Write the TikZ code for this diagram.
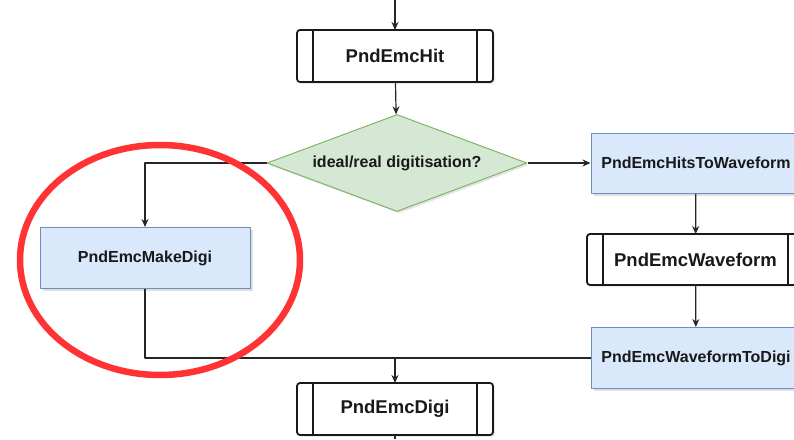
\documentclass[tikz,border=0pt]{standalone}
\usepackage{fontspec}
\setmainfont{Liberation Sans}
\usetikzlibrary{shapes.geometric,shadows,arrows.meta}
\definecolor{procfill}{HTML}{DAE8FC}
\definecolor{procline}{HTML}{6C8EBF}
\definecolor{decfill}{HTML}{D5E8D4}
\definecolor{decline}{HTML}{82B366}
\definecolor{markred}{HTML}{FF3333}
\tikzset{
  proc/.style={rectangle, draw=procline, fill=procfill, line width=1pt,
    minimum width=210pt, minimum height=61pt, text=black!90,
    font=\fontsize{16}{19}\selectfont\bfseries,
    drop shadow={shadow xshift=2.5pt, shadow yshift=-2.5pt, opacity=0.25}},
  dataobj/.style={rectangle, rounded corners=3pt, draw=black!90, fill=white,
    line width=1.8pt, outer sep=0pt, minimum width=196pt, minimum height=52pt,
    text=black!90, font=\fontsize{18.5}{22}\selectfont\bfseries,
    drop shadow={shadow xshift=2pt, shadow yshift=-2pt, opacity=0.15}},
  decide/.style={diamond, aspect=2.68, draw=decline, fill=decfill, line width=1pt,
    minimum width=260pt, minimum height=97pt, inner sep=0pt, text=black!90,
    font=\fontsize{16}{19}\selectfont\bfseries,
    drop shadow={shadow xshift=2pt, shadow yshift=-2pt, opacity=0.2}},
  flow/.style={line width=1.2pt, draw=black!85}
}
\begin{document}
\begin{tikzpicture}[x=1pt, y=-1pt, >={Stealth[length=8pt, width=7pt]}, line join=round]
\useasboundingbox (0,0) rectangle (794,439);
% hits coming in from above
\coordinate (top) at (395,0);
\node[dataobj] (hit) at (395,56) {PndEmcHit};
\node[decide] (dec) at (397,163) {ideal/real digitisation?};
% ideal branch on the left
\node[proc] (make) at (145,258) {PndEmcMakeDigi};
% real branch via waveforms on the right
\node[proc, minimum height=60pt] (h2w) at (696,163) {PndEmcHitsToWaveform};
\node[dataobj, minimum width=217pt, minimum height=51pt] (wave) at (695.5,259.5) {PndEmcWaveform};
\node[proc] (w2d) at (696,358) {PndEmcWaveformToDigi};
\node[dataobj] (digi) at (395,409) {PndEmcDigi};
\coordinate (bottom) at (395,439);
% side bars of the data boxes
\foreach \n in {hit,wave,digi} {
  \draw[line width=1.8pt, black!90] ([xshift=16pt]\n.north west) -- ([xshift=16pt]\n.south west);
  \draw[line width=1.8pt, black!90] ([xshift=-16pt]\n.north east) -- ([xshift=-16pt]\n.south east);
}
% connectors
\draw[flow,->] (top) -- (hit);
\draw[flow,->] (hit) -- (dec);
\draw[flow,->] (dec.west) -| (make.north);
\draw[flow,->] (dec.east) -- (h2w.west);
\draw[flow,->] (h2w) -- (wave);
\draw[flow,->] (wave) -- (w2d);
\draw[flow] (make.south) |- (w2d.west);
\coordinate (join) at (digi.north |- w2d.west);
\draw[flow,->] (join) -- (digi);
\draw[flow] (digi) -- (bottom);
% red ring round the ideal branch
\draw[markred, line width=6.5pt] (160,260) ellipse [x radius=140pt, y radius=115pt];
\end{tikzpicture}
\end{document}
